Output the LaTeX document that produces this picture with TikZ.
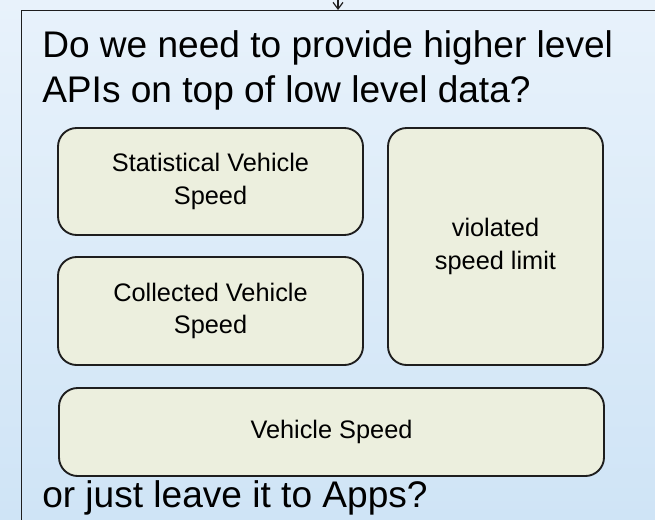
\documentclass[tikz,border=0pt]{standalone}
\usepackage{fontspec}
\setmainfont{Liberation Sans}
\usetikzlibrary{arrows.meta}
\definecolor{bgtop}{RGB}{232,242,251}
\definecolor{bgbot}{RGB}{207,228,246}
\definecolor{boxfill}{RGB}{236,239,222}
\definecolor{edge}{RGB}{30,30,30}
\tikzset{
  apibox/.style={draw=edge, line width=1.4pt, fill=boxfill, rounded corners=14pt,
    align=center, inner sep=0pt, font=\fontsize{19}{24.5}\selectfont},
  bigtext/.style={anchor=base west, inner sep=0pt, font=\fontsize{27.8}{34}\selectfont},
  container/.style={draw=edge, line width=1.1pt, anchor=north west, inner sep=0pt}
}
\begin{document}
\begin{tikzpicture}[x=0.75pt,y=0.75pt]
\useasboundingbox (0,0) rectangle (655,519);
\clip (0,0) rectangle (655,519);
\shade[top color=bgtop, bottom color=bgbot] (0,0) rectangle (655,519);
\node[container, minimum width={700*0.75pt}, minimum height={570*0.75pt}] (outer) at (21,509) {};
\coordinate (src) at (338,540);
\draw[draw=edge, line width=0.9pt, -{Straight Barb[length=5pt,width=7.5pt]}] (src) -- (src |- outer.north);
\node[bigtext] (q1) at (42,462) {Do we need to provide higher level};
\node[bigtext] (q2) at (42,417) {APIs on top of low level data?};
\node[apibox, minimum width={305*0.75pt}, minimum height={107*0.75pt}] (stat) at (210.5,337.5) {Statistical Vehicle\\Speed};
\node[apibox, minimum width={305*0.75pt}, minimum height={108*0.75pt}] (coll) at (210.5,208) {Collected Vehicle\\Speed};
\node[apibox, minimum width={215*0.75pt}, minimum height={237*0.75pt}] (viol) at (495.5,272.5) {violated\\speed limit};
\node[apibox, minimum width={545*0.75pt}, minimum height={88*0.75pt}] (vs) at (331.5,87) {Vehicle Speed};
\node[bigtext] (q3) at (42,12) {or just leave it to Apps?};
\end{tikzpicture}
\end{document}
